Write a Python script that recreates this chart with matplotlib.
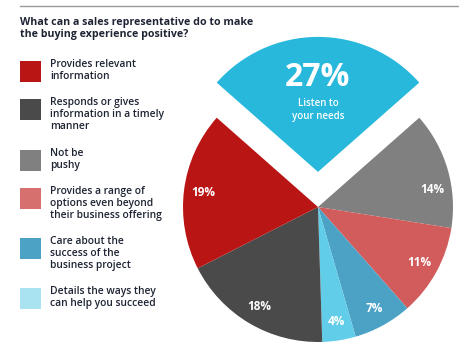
import matplotlib
matplotlib.use('Agg')
import matplotlib.pyplot as plt
from matplotlib.patches import Rectangle
import numpy as np

# Survey data (order: clockwise from the exploded top slice)
labels = ['Listen to your needs', 'Not be pushy',
          'Provides a range of options even beyond their business offering',
          'Care about the success of the business project',
          'Details the ways they can help you succeed',
          'Responds or gives information in a timely manner',
          'Provides relevant information']
values = [27, 14, 11, 7, 4, 18, 19]
slice_colors = ['#28B8DC', '#808080', '#D25C5C', '#4BA2C5', '#62CDE8', '#4A4A4A', '#BA1515']

# Legend entries (top to bottom)
legend_text = ['Provides relevant\ninformation',
               'Responds or gives\ninformation in a timely\nmanner',
               'Not be\npushy',
               'Provides a range of\noptions even beyond\ntheir business offering',
               'Care about the\nsuccess of the\nbusiness project',
               'Details the ways they\ncan help you succeed']
legend_colors = ['#BA1515', '#4A4A4A', '#808080', '#D6706F', '#4BA2C5', '#A9E2F0']

title = 'What can a sales representative do to make\nthe buying experience positive?'
text_color = '#1E2433'
FONT = 'Open Sans'

W, H = 460, 352
fig = plt.figure(figsize=(W / 100, H / 100), dpi=100)
fig.patch.set_facecolor('white')

# top rule
fig.add_artist(plt.Line2D([20 / W, 1.0], [1 - 6 / H, 1 - 6 / H], color='#9A9A9A', lw=1.0))

fig.text(20 / W, 1 - 17 / H, title, ha='left', va='top', fontsize=7.7,
         fontweight='bold', color=text_color, family=FONT, linespacing=1.1)

# legend drawn by hand
legend_tops = [61, 99, 150, 188, 238, 288]
for top, txt, col in zip(legend_tops, legend_text, legend_colors):
    fig.add_artist(Rectangle((20 / W, 1 - (top + 21) / H), 21 / W, 21 / H,
                             transform=fig.transFigure, color=col, lw=0))
    fig.text(50 / W, 1 - (top - 2) / H, txt, ha='left', va='top', fontsize=7.4,
             fontweight='semibold', color=text_color, family=FONT, linespacing=1.15)

# pie
cx, cy, R = 318, 207, 135
half = 180
ax = fig.add_axes([(cx - half) / W, (H - cy - half) / H, 2 * half / W, 2 * half / H])
explode = [0.26] + [0] * (len(values) - 1)
start = 90 + 360 * values[0] / 100 / 2
wedges, _, autotexts = ax.pie(values, colors=slice_colors, explode=explode,
                              startangle=start, counterclock=False, radius=1.0,
                              autopct='%d%%', pctdistance=0.86,
                              wedgeprops=dict(linewidth=0),
                              textprops=dict(color='white', fontsize=8.5,
                                             fontweight='bold', family=FONT))
lim = half / R
ax.set_xlim(-lim, lim)
ax.set_ylim(-lim, lim)
ax.axis('off')

# the 14% label sits a little lower in the original
w1 = wedges[1]
a1 = np.deg2rad(w1.theta1 + 0.35 * (w1.theta2 - w1.theta1))
autotexts[1].set_position((0.86 * np.cos(a1), 0.86 * np.sin(a1)))

# big label inside the exploded slice
w0 = wedges[0]
mid = np.deg2rad((w0.theta1 + w0.theta2) / 2)
ox, oy = w0.center
autotexts[0].set_visible(False)
ax.text(ox + 0.70 * np.cos(mid), oy + 0.70 * np.sin(mid), '%d%%' % values[0],
        ha='center', va='center', color='white', fontsize=23, fontweight='bold', family=FONT)
ax.text(ox + 0.46 * np.cos(mid), oy + 0.46 * np.sin(mid), 'Listen to\nyour needs',
        ha='center', va='center', color='white', fontsize=7, fontweight='semibold',
        family=FONT, linespacing=1.2)

fig.savefig('out.png', dpi=100, facecolor='white')
